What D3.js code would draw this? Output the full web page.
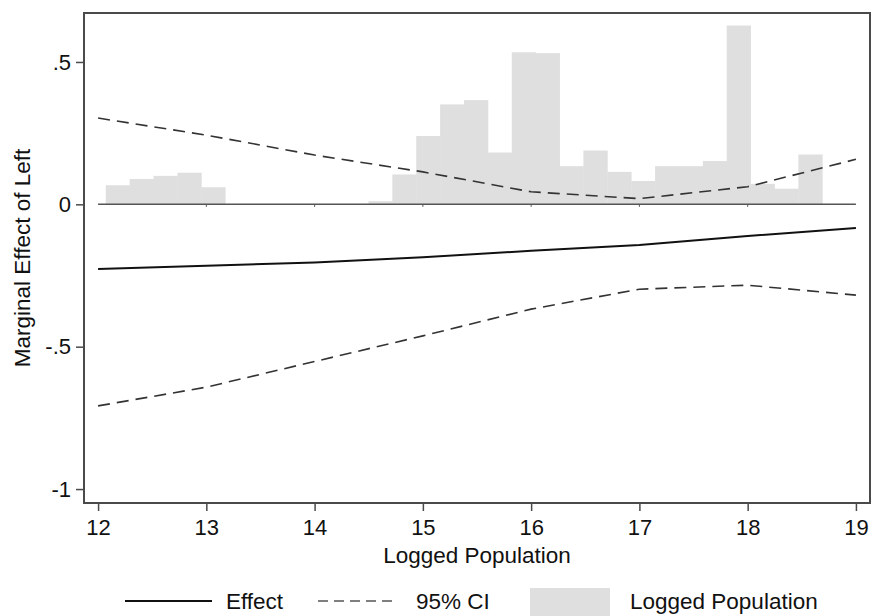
<!DOCTYPE html>
<html>
<head>
<meta charset="utf-8">
<script src="https://cdn.jsdelivr.net/npm/d3@7"></script>
<style>
  body { margin: 0; background: #fff; }
  svg text { font-family: "Liberation Sans", Arial, sans-serif; fill: #111; }
</style>
</head>
<body>
<svg id="chart" width="873" height="616"></svg>
<script>
"use strict";

// marginal effect of Left, evaluated at each logged population value
const popGrid = [12, 13, 14, 15, 16, 17, 18, 19];
const effect = [-0.227, -0.216, -0.204, -0.186, -0.163, -0.143, -0.111, -0.083];
const ciUpper = [0.303, 0.243, 0.173, 0.114, 0.044, 0.020, 0.062, 0.158];
const ciLower = [-0.708, -0.642, -0.552, -0.462, -0.368, -0.298, -0.284, -0.319];

// histogram of logged population (30 bins), heights on the effect axis
const binStart = 12.071;
const binWidth = 0.2206;
const binHeights = [
    0.067, 0.089, 0.100, 0.111, 0.060, 0, 0, 0, 0, 0,
    0, 0.011, 0.105, 0.240, 0.351, 0.366, 0.182, 0.534, 0.531, 0.134,
    0.189, 0.114, 0.082, 0.134, 0.134, 0.152, 0.628, 0.072, 0.055, 0.175
];

const xTicks = [12, 13, 14, 15, 16, 17, 18, 19];
const yTicks = [-1, -0.5, 0, 0.5];
const yTickLabels = ["-1", "-.5", "0", ".5"];

const legendItems = ["Effect", "95% CI", "Logged Population"];

const svg = d3.select("#chart");
const plot = {left: 84, top: 13, right: 870, bottom: 503};

const scaleX = d3.scaleLinear().domain([11.87, 19.13]).range([plot.left, plot.right]);
const scaleY = d3.scaleLinear().domain([-1.049, 0.672]).range([plot.bottom, plot.top]);

const frameColor = "#4a4a4a";

// histogram bars
const bins = binHeights.map((h, i) => ({x0: binStart + i * binWidth, x1: binStart + (i + 1) * binWidth, h: h}))
    .filter(d => d.h > 0);
svg.append("g")
    .selectAll("rect")
    .data(bins)
    .join("rect")
    .attr("x", d => scaleX(d.x0))
    .attr("width", d => scaleX(d.x1) - scaleX(d.x0) + 0.4)
    .attr("y", d => scaleY(d.h))
    .attr("height", d => scaleY(0) - scaleY(d.h))
    .attr("fill", "#dfdfdf");

// zero line with little ticks
svg.append("line")
    .attr("x1", scaleX(12)).attr("x2", scaleX(19))
    .attr("y1", scaleY(0)).attr("y2", scaleY(0))
    .attr("stroke", "#555").attr("stroke-width", 1.5);
svg.append("g")
    .selectAll("line")
    .data(xTicks.slice(1, -1))
    .join("line")
    .attr("x1", d => scaleX(d)).attr("x2", d => scaleX(d))
    .attr("y1", scaleY(0)).attr("y2", scaleY(0) + 2.5)
    .attr("stroke", "#555").attr("stroke-width", 1);

const line = d3.line().x(d => scaleX(d[0])).y(d => scaleY(d[1]));
const zip = vals => popGrid.map((p, i) => [p, vals[i]]);

// confidence bounds
[ciUpper, ciLower].forEach(vals => {
    svg.append("path")
        .attr("d", line(zip(vals)))
        .attr("fill", "none")
        .attr("stroke", "#333")
        .attr("stroke-width", 1.6)
        .attr("stroke-dasharray", "12, 7");
});

// effect line
svg.append("path")
    .attr("d", line(zip(effect)))
    .attr("fill", "none")
    .attr("stroke", "#111")
    .attr("stroke-width", 2);

// axes
const yAxis = svg.append("g")
    .attr("transform", `translate(${plot.left},0)`)
    .call(d3.axisLeft(scaleY)
        .tickValues(yTicks)
        .tickSize(8)
        .tickPadding(5)
        .tickFormat((d, i) => yTickLabels[i]));
const xAxis = svg.append("g")
    .attr("transform", `translate(0,${plot.bottom})`)
    .call(d3.axisBottom(scaleX)
        .tickValues(xTicks)
        .tickSize(8)
        .tickPadding(8)
        .tickFormat(d3.format("d")));
[yAxis, xAxis].forEach(ax => {
    ax.select(".domain").remove();
    ax.selectAll("line").attr("stroke", frameColor).attr("stroke-width", 1.5);
    ax.selectAll("text").style("font-size", "22px").attr("fill", "#111");
});

// frame
svg.append("rect")
    .attr("x", plot.left).attr("y", plot.top)
    .attr("width", plot.right - plot.left).attr("height", plot.bottom - plot.top)
    .attr("fill", "none")
    .attr("stroke", frameColor)
    .attr("stroke-width", 2);

// titles
svg.append("text")
    .attr("x", (scaleX(12) + scaleX(19)) / 2)
    .attr("y", 563)
    .attr("text-anchor", "middle")
    .style("font-size", "22.5px")
    .text("Logged Population");
svg.append("text")
    .attr("transform", `translate(30,${(plot.top + plot.bottom) / 2}) rotate(-90)`)
    .attr("text-anchor", "middle")
    .style("font-size", "22.5px")
    .text("Marginal Effect of Left");

// legend
const legend = svg.append("g");
legend.append("line")
    .attr("x1", 125).attr("x2", 212).attr("y1", 601).attr("y2", 601)
    .attr("stroke", "#111").attr("stroke-width", 2);
legend.append("line")
    .attr("x1", 318).attr("x2", 392).attr("y1", 601).attr("y2", 601)
    .attr("stroke", "#555").attr("stroke-width", 1.6)
    .attr("stroke-dasharray", "10, 6");
legend.append("rect")
    .attr("x", 530).attr("y", 588).attr("width", 80).attr("height", 30)
    .attr("fill", "#dfdfdf");
legend.selectAll("text")
    .data(legendItems)
    .join("text")
    .attr("x", (d, i) => [226, 416, 630][i])
    .attr("y", 609)
    .style("font-size", "22.5px")
    .text(d => d);
</script>
</body>
</html>
